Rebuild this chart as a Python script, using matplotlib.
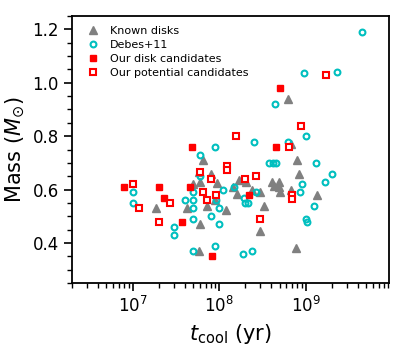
import numpy as np
import matplotlib

matplotlib.use("Agg")
import matplotlib.pyplot as plt
from matplotlib.ticker import MultipleLocator

# Known disks (grey triangles)
known_t = [1.86e7, 4.3e7, 5.0e7, 5.8e7, 6.0e7, 6.0e7, 5.8e7, 6.5e7, 8.0e7, 7.3e7,
           9.0e7, 9.5e7, 1.2e8, 1.45e8, 1.6e8, 1.7e8, 2.05e8, 2.4e8, 3.0e8, 3.3e8,
           3.0e8, 4.1e8, 4.3e8, 4.9e8, 4.9e8, 5.0e8, 6.7e8, 6.7e8, 7.9e8, 8.4e8,
           1.35e9, 7.7e8, 6.2e8]
known_m = [0.53, 0.53, 0.62, 0.37, 0.47, 0.63, 0.665, 0.71, 0.66, 0.54,
           0.56, 0.625, 0.525, 0.61, 0.585, 0.635, 0.63, 0.60, 0.59, 0.54,
           0.445, 0.63, 0.615, 0.63, 0.61, 0.59, 0.77, 0.60, 0.71, 0.66,
           0.58, 0.38, 0.94]

# Debes+11 (cyan open circles)
debes_t = [1.0e7, 1.0e7, 3.0e7, 3.0e7, 4.0e7, 5.0e7, 5.0e7, 5.0e7, 5.0e7, 5.0e7,
           9.1e7, 1.0e8, 8.0e7, 1.0e8, 9.0e7, 1.1e8, 1.5e8, 6.0e7, 8.9e7, 6.0e7,
           2.5e8, 3.8e8, 4.2e8, 4.6e8, 1.02e9, 6.3e8, 1.3e9, 2.0e9, 1.67e9, 9.1e8,
           8.5e8, 1.24e9, 1.0e9, 1.05e9, 1.95e8, 2.0e8, 2.15e8, 2.7e8, 1.9e8, 2.4e8,
           9.5e8, 2.3e9, 4.4e8, 4.5e9]
debes_m = [0.59, 0.55, 0.46, 0.43, 0.56, 0.59, 0.56, 0.53, 0.49, 0.37,
           0.56, 0.53, 0.50, 0.47, 0.39, 0.60, 0.61, 0.73, 0.76, 0.65,
           0.78, 0.70, 0.70, 0.70, 0.80, 0.78, 0.70, 0.66, 0.63, 0.62,
           0.59, 0.54, 0.49, 0.48, 0.57, 0.55, 0.55, 0.59, 0.36, 0.37,
           1.037, 1.04, 0.92, 1.19]

# Our disk candidates (filled red squares)
cand_t = [7.9e6, 2.0e7, 2.3e7, 3.7e7, 4.6e7, 4.9e7, 8.2e7, 2.2e8, 4.6e8, 5.1e8]
cand_m = [0.61, 0.61, 0.57, 0.48, 0.61, 0.76, 0.35, 0.58, 0.76, 0.98]

# Our potential candidates (open red squares)
pot_t = [1.0e7, 1.2e7, 2.0e7, 2.7e7, 6.0e7, 6.6e7, 7.3e7, 8.0e7, 9.2e7, 1.25e8,
         1.25e8, 1.55e8, 2.0e8, 2.7e8, 2.95e8, 6.4e8, 6.9e8, 6.9e8, 8.9e8, 1.7e9]
pot_m = [0.62, 0.53, 0.48, 0.55, 0.665, 0.59, 0.56, 0.64, 0.58, 0.69,
         0.675, 0.80, 0.64, 0.65, 0.49, 0.76, 0.58, 0.565, 0.84, 1.03]

fig = plt.figure(figsize=(4.07, 3.49), dpi=100)
ax = fig.add_axes([0.177, 0.189, 0.779, 0.765])

ax.plot(known_t, known_m, "^", color="grey", ms=6, mec="grey", ls="none",
        label="Known disks")
ax.plot(debes_t, debes_m, "o", mfc="none", mec="c", mew=1.5, ms=4.2, ls="none",
        label="Debes+11")
ax.plot(cand_t, cand_m, "s", color="red", ms=5, ls="none",
        label="Our disk candidates")
ax.plot(pot_t, pot_m, "s", mfc="white", mec="red", mew=1.5, ms=4.6, ls="none",
        label="Our potential candidates")

ax.set_xscale("log")
ax.set_xlim(2e6, 9.2e9)
ax.set_ylim(0.25, 1.25)
ax.yaxis.set_major_locator(MultipleLocator(0.2))
ax.yaxis.set_minor_locator(MultipleLocator(0.05))

ax.set_xlabel(r"$t_{\rm cool}$ (yr)", fontsize=15)
ax.set_ylabel(r"Mass ($M_{\odot}$)", fontsize=15)
ax.tick_params(which="major", labelsize=12, length=6, width=1.2)
ax.tick_params(which="minor", length=3.5, width=1)
for s in ax.spines.values():
    s.set_linewidth(1.3)

ax.legend(loc="upper left", frameon=False, fontsize=8, handletextpad=0.5,
          labelspacing=0.35)

fig.savefig("out.png", dpi=100)
